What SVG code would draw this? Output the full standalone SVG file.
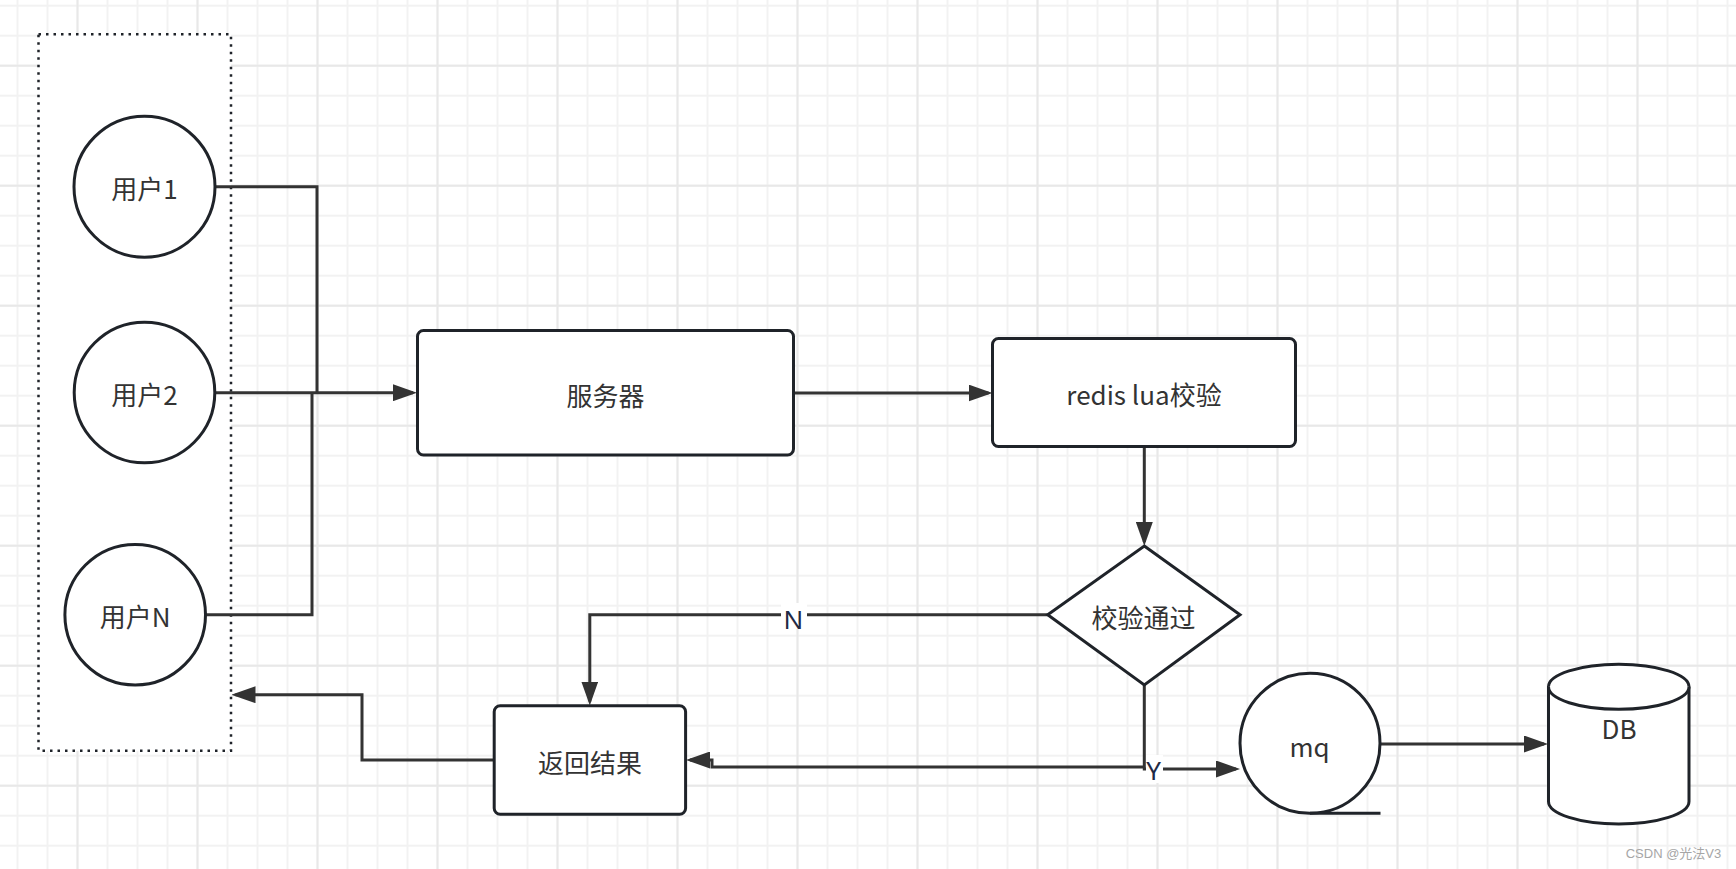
<svg xmlns="http://www.w3.org/2000/svg" width="1736" height="869" viewBox="0 0 1736 869">
<style>
.node{fill:#fff;stroke:#1f2329;stroke-width:3}
.edge{fill:none;stroke:#333;stroke-width:3}
.lbl{font-family:"Noto Sans CJK SC","Noto Sans",sans-serif;font-size:26px;fill:#333;text-anchor:middle;dominant-baseline:central}
.elbl{font-family:"Noto Sans","Noto Sans CJK SC",sans-serif;font-size:26px;fill:#1f2a44;text-anchor:middle;dominant-baseline:central}
</style>
<defs>
<pattern id="gMinor" patternUnits="userSpaceOnUse" x="2.5" y="-9.3" width="30" height="30">
<path d="M15 0V30M0 15H30" stroke="#f2f2f2" stroke-width="2" fill="none"/>
</pattern>
<pattern id="gMajor" patternUnits="userSpaceOnUse" x="17.5" y="5.7" width="120" height="120">
<path d="M60 0V120M0 60H120" stroke="#e8e8e8" stroke-width="2" fill="none"/>
</pattern>
<marker id="arr" markerUnits="userSpaceOnUse" markerWidth="24" markerHeight="17" refX="20" refY="8.5" orient="auto">
<path d="M0 0L24 8.5L0 17Z" fill="#333"/>
</marker>
</defs>
<rect width="1736" height="869" fill="#fff"/>
<rect width="1736" height="869" fill="url(#gMinor)"/>
<rect width="1736" height="869" fill="url(#gMajor)"/>

<g id="users-group">
<rect x="38.5" y="34.3" width="192.5" height="716.5" fill="#fff" stroke="#1f2329" stroke-width="2.5" stroke-dasharray="2.5 5"/>
</g>

<g id="edges">
<path class="edge" d="M215 186.7H317V392.7"/>
<path class="edge" d="M205.5 614.7H312V392.7"/>
<path class="edge" d="M215 392.7H413" marker-end="url(#arr)"/>
<path class="edge" d="M793.5 393H988.5" marker-end="url(#arr)"/>
<path class="edge" d="M1144.3 446.7V542" marker-end="url(#arr)"/>
<path class="edge" d="M1047.7 614.7H589.8V701.5" marker-end="url(#arr)"/>
<path class="edge" d="M494 760H362V694.7H235.5" marker-end="url(#arr)"/>
<path class="edge" d="M1144.3 685V769H1236" marker-end="url(#arr)"/>
<path class="edge" d="M1143.5 767H712V760H690" marker-end="url(#arr)"/>
<path class="edge" d="M1380 744H1544" marker-end="url(#arr)"/>
<rect x="781" y="603" width="26" height="26" fill="#fff"/>
<text class="elbl" x="793.5" y="619">N</text>
<rect x="1146" y="755" width="17" height="28" fill="#fff"/>
<text class="elbl" x="1153.5" y="770">Y</text>
</g>

<g id="user1">
<circle class="node" cx="144.5" cy="186.7" r="70.5"/>
<text class="lbl" x="144.5" y="187.5">用户1</text>
</g>
<g id="user2">
<circle class="node" cx="144.5" cy="392.5" r="70.3"/>
<text class="lbl" x="144.5" y="393.5">用户2</text>
</g>
<g id="userN">
<circle class="node" cx="135.2" cy="614.7" r="70.3"/>
<text class="lbl" x="135.2" y="615.5">用户N</text>
</g>
<g id="server">
<rect class="node" x="417.5" y="330.5" width="376" height="124.5" rx="6"/>
<text class="lbl" x="605.5" y="394">服务器</text>
</g>
<g id="redis">
<rect class="node" x="992.5" y="338.5" width="303" height="108" rx="6"/>
<text class="lbl" x="1144" y="393.5">redis lua校验</text>
</g>
<g id="check">
<polygon class="node" points="1144.3,546 1240,614.7 1144.3,685 1047.7,614.7"/>
<text class="lbl" x="1143.5" y="616">校验通过</text>
</g>
<g id="result">
<rect class="node" x="494.2" y="705.7" width="191.4" height="108.6" rx="6"/>
<text class="lbl" x="590" y="761">返回结果</text>
</g>
<g id="mq">
<circle class="node" cx="1310" cy="743.3" r="70"/>
<path class="node" d="M1310 813.3H1380.5" fill="none"/>
<text class="lbl" x="1309.5" y="745">mq</text>
</g>
<g id="db">
<path class="node" d="M1548.5 686.8A70.25 22.5 0 0 1 1689 686.8V801.5A70.25 22.5 0 0 1 1548.5 801.5Z"/>
<path class="node" d="M1548.5 686.8A70.25 22.5 0 0 0 1689 686.8" fill="none"/>
<text class="lbl" x="1619" y="727">DB</text>
</g>
<text x="1673.5" y="853" font-family="'Liberation Sans','Noto Sans CJK SC',sans-serif" font-size="13" fill="#a6a6a6" text-anchor="middle" dominant-baseline="central">CSDN @光法V3</text>
</svg>
